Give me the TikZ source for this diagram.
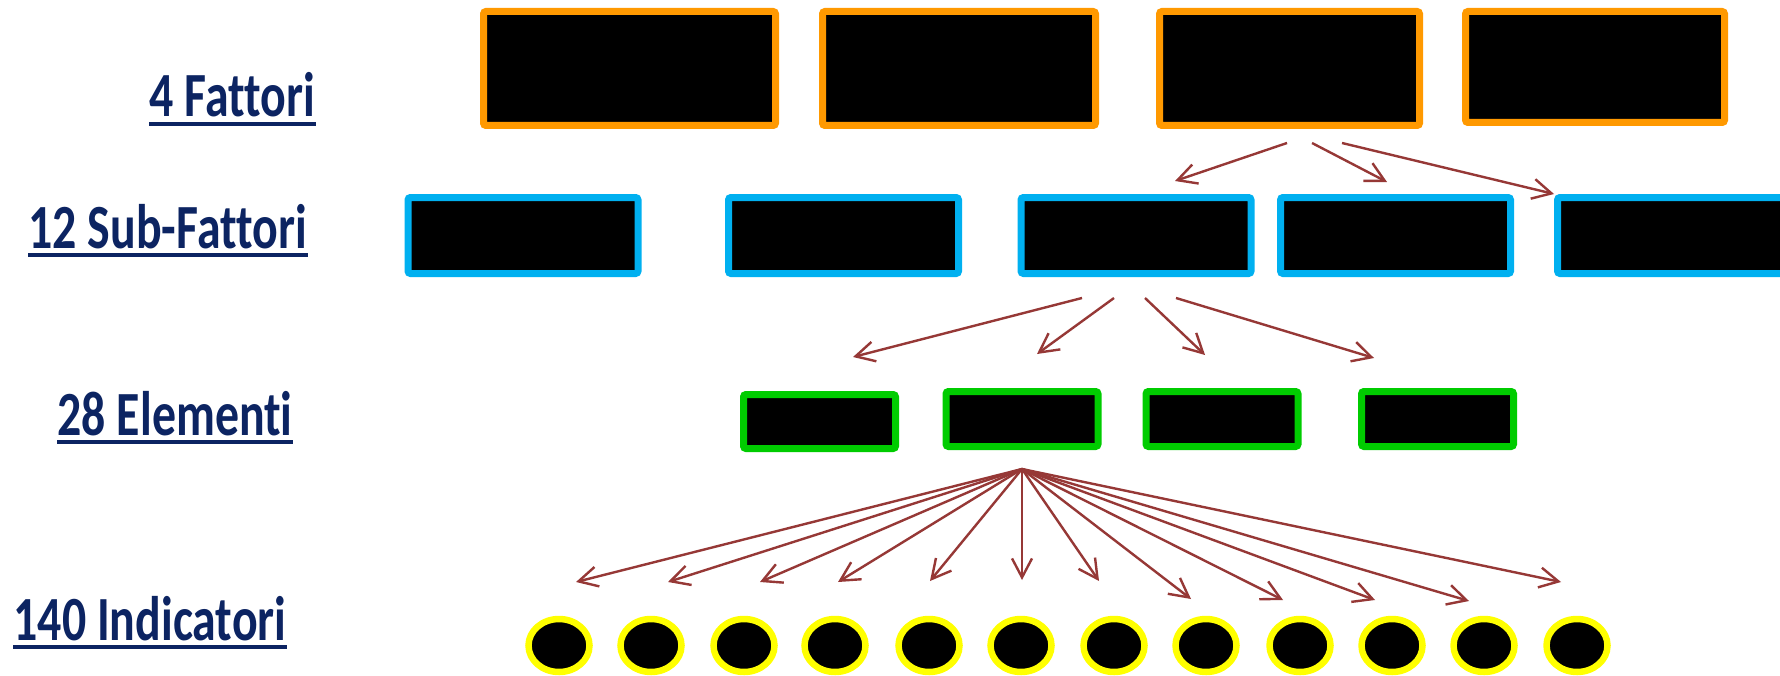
\documentclass[tikz,border=0pt]{standalone}
\usepackage{fontspec}
\usetikzlibrary{arrows.meta,shapes.geometric}
\newfontfamily\lblfont{Carlito}[FakeStretch=0.76,Ligatures=NoCommon]
\definecolor{lblblue}{RGB}{12,36,98}
\definecolor{facorange}{RGB}{255,153,0}
\definecolor{subblue}{RGB}{0,176,240}
\definecolor{elgreen}{RGB}{0,204,0}
\definecolor{indyellow}{RGB}{255,255,0}
\definecolor{arrred}{RGB}{150,56,54}
\begin{document}
\begin{tikzpicture}[x=0.1mm,y=-0.1mm,
  box/.style={draw, fill=black, line width=0.7mm, rounded corners=0.25mm, inner sep=0pt},
  factor/.style={box, draw=facorange, minimum height=11.4mm},
  subfactor/.style={box, draw=subblue, minimum height=7.6mm, minimum width=23mm},
  element/.style={box, draw=elgreen, minimum height=5.5mm, minimum width=15.2mm},
  indicator/.style={ellipse, draw=indyellow, fill=black, line width=0.65mm, inner sep=0pt,
    minimum width=6.1mm, minimum height=5.3mm},
  level/.style={font=\lblfont\bfseries\fontsize{17.9pt}{20pt}\selectfont, text=lblblue,
    inner sep=0pt, anchor=base west},
  uline/.style={draw=lblblue, line width=0.45mm},
  conn/.style={draw=arrred, line width=0.24mm, -{Straight Barb[length=1.9mm,width=2mm]}}
]
\clip (0,0) rectangle (1780,675);
\fill[white] (0,0) rectangle (1780,675);

% level labels
\node[level] (lf) at (149,117) {4 Fattori};
\node[level] (ls) at (28,248) {12 Sub-Fattori};
\node[level] (le) at (57,435) {28 Elementi};
\node[level] (li) at (13,640) {140 Indicatori};
\foreach \l in {lf,ls,le,li}
  \draw[uline] ([yshift=-0.7mm]\l.base west) -- ([yshift=-0.7mm]\l.base east);

% factors
\node[factor, minimum width=29.2mm] (f1) at (629.5,68.5) {};
\node[factor, minimum width=27.3mm] (f2) at (959,68.5) {};
\node[factor, minimum width=26.0mm] (f3) at (1289.5,68.5) {};
\node[factor, minimum width=25.9mm, minimum height=11.1mm] (f4) at (1595,67) {};

% sub-factors
\node[subfactor] (s1) at (523,235.5) {};
\node[subfactor] (s2) at (843.5,235.5) {};
\node[subfactor] (s3) at (1136,235.5) {};
\node[subfactor] (s4) at (1395.5,235.5) {};
\node[subfactor] (s5) at (1672.5,235.5) {};

% elements
\node[element, minimum height=5.4mm] (e1) at (819.5,421.5) {};
\node[element] (e2) at (1022,419) {};
\node[element] (e3) at (1222,419) {};
\node[element] (e4) at (1437.5,419) {};

% indicators
\foreach \i/\x in {1/559,2/651,3/744,4/835,5/929,6/1021,7/1114,8/1206,9/1300,10/1392,11/1484,12/1577}
  \node[indicator] (i\i) at (\x,645.5) {};

% factor -> sub-factors
\coordinate (fa) at (1287,143);
\coordinate (fb) at (1312,143);
\coordinate (fc) at (1342,143);
\coordinate (ta) at (1175,181);
\coordinate (tb) at (1387,182);
\draw[conn] (fa) -- (ta);
\draw[conn] (fb) -- (tb);
\draw[conn] (fc) -- (s5.north west);

% sub-factor -> elements
\coordinate (sa) at (1082,298);
\coordinate (sb) at (1114,298);
\coordinate (sc) at (1145,298);
\coordinate (sd) at (1176,298);
\coordinate (ua) at (853,357);
\coordinate (ub) at (1037,354);
\coordinate (uc) at (1205,355);
\coordinate (ud) at (1374,358);
\draw[conn] (sa) -- (ua);
\draw[conn] (sb) -- (ub);
\draw[conn] (sc) -- (uc);
\draw[conn] (sd) -- (ud);

% element -> indicators
\coordinate (es) at (1022,469);
\foreach \i/\x/\y in {1/576/582,2/668/582,3/760/582,4/838/582,5/930/581,6/1022/580,
    7/1099/581,8/1191/599,9/1283/600,10/1375/600,11/1469/601,12/1561/582}{
  \coordinate (v\i) at (\x,\y);
  \draw[conn] (es) -- (v\i);
}
\end{tikzpicture}
\end{document}
